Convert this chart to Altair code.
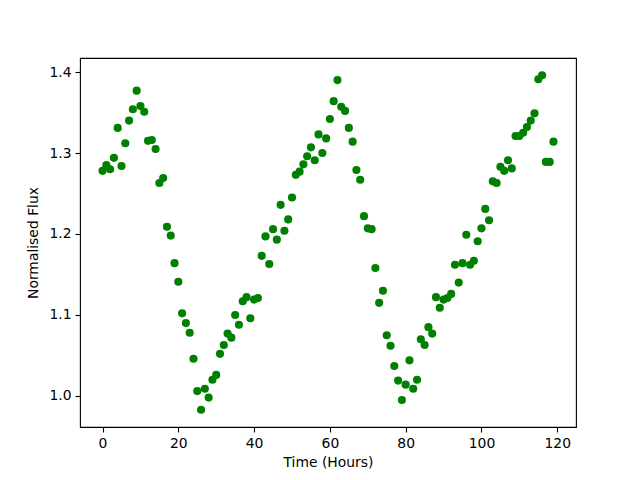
import altair as alt
import pandas as pd

hours = list(range(120))
flux = [
    1.278, 1.285, 1.280, 1.294, 1.331, 1.284, 1.312, 1.340, 1.354, 1.377,
    1.358, 1.351, 1.315, 1.316, 1.305, 1.263, 1.269, 1.209, 1.198, 1.164,
    1.141, 1.102, 1.090, 1.078, 1.046, 1.006, 0.983, 1.009, 0.998, 1.020,
    1.026, 1.052, 1.063, 1.077, 1.072, 1.100, 1.088, 1.117, 1.122, 1.096,
    1.119, 1.121, 1.173, 1.197, 1.163, 1.206, 1.193, 1.236, 1.204, 1.218,
    1.245, 1.273, 1.277, 1.286, 1.296, 1.307, 1.291, 1.323, 1.300, 1.318,
    1.342, 1.364, 1.390, 1.357, 1.352, 1.331, 1.314, 1.279, 1.267, 1.222,
    1.207, 1.206, 1.158, 1.115, 1.130, 1.075, 1.062, 1.037, 1.019, 0.995,
    1.014, 1.044, 1.009, 1.020, 1.070, 1.063, 1.085, 1.077, 1.122, 1.109,
    1.119, 1.121, 1.126, 1.162, 1.140, 1.164, 1.199, 1.162, 1.167, 1.191,
    1.207, 1.231, 1.217, 1.265, 1.263, 1.283, 1.278, 1.291, 1.281, 1.321,
    1.321, 1.325, 1.332, 1.340, 1.349, 1.391, 1.396, 1.289, 1.289, 1.314,
]
x_ticks = [0, 20, 40, 60, 80, 100, 120]
y_ticks = [1.0, 1.1, 1.2, 1.3, 1.4]

df = pd.DataFrame({"t": hours, "f": flux})

axis_common = dict(
    grid=False,
    domain=False,
    tickColor="black",
    tickSize=5,
    tickWidth=1.1,
    labelFont="DejaVu Sans",
    labelFontSize=13.9,
    labelColor="black",
    titleFont="DejaVu Sans",
    titleFontSize=13.9,
    titleFontWeight="normal",
    titleColor="black",
    labelPadding=4,
)

chart = alt.Chart(df).mark_circle(size=66, color="#008000", opacity=1).encode(
    x=alt.X("t:Q", scale=alt.Scale(domain=[-5.95, 124.95], nice=False, zero=False),
            axis=alt.Axis(values=x_ticks, title="Time (Hours)", format="d", titlePadding=6, **axis_common)),
    y=alt.Y("f:Q", scale=alt.Scale(domain=[0.9617, 1.4173], nice=False, zero=False),
            axis=alt.Axis(values=y_ticks, title="Normalised Flux", format=".1f", titlePadding=8, **axis_common)),
).properties(
    width=496,
    height=369,
    autosize=alt.AutoSizeParams(type="none"),
    padding={"left": 72, "top": 50, "right": 48, "bottom": 45},
).configure(
    background="white",
).configure_view(
    stroke="black",
    strokeWidth=1.1,
)

chart.save("out.html", embed_options={"renderer": "svg", "actions": False})
